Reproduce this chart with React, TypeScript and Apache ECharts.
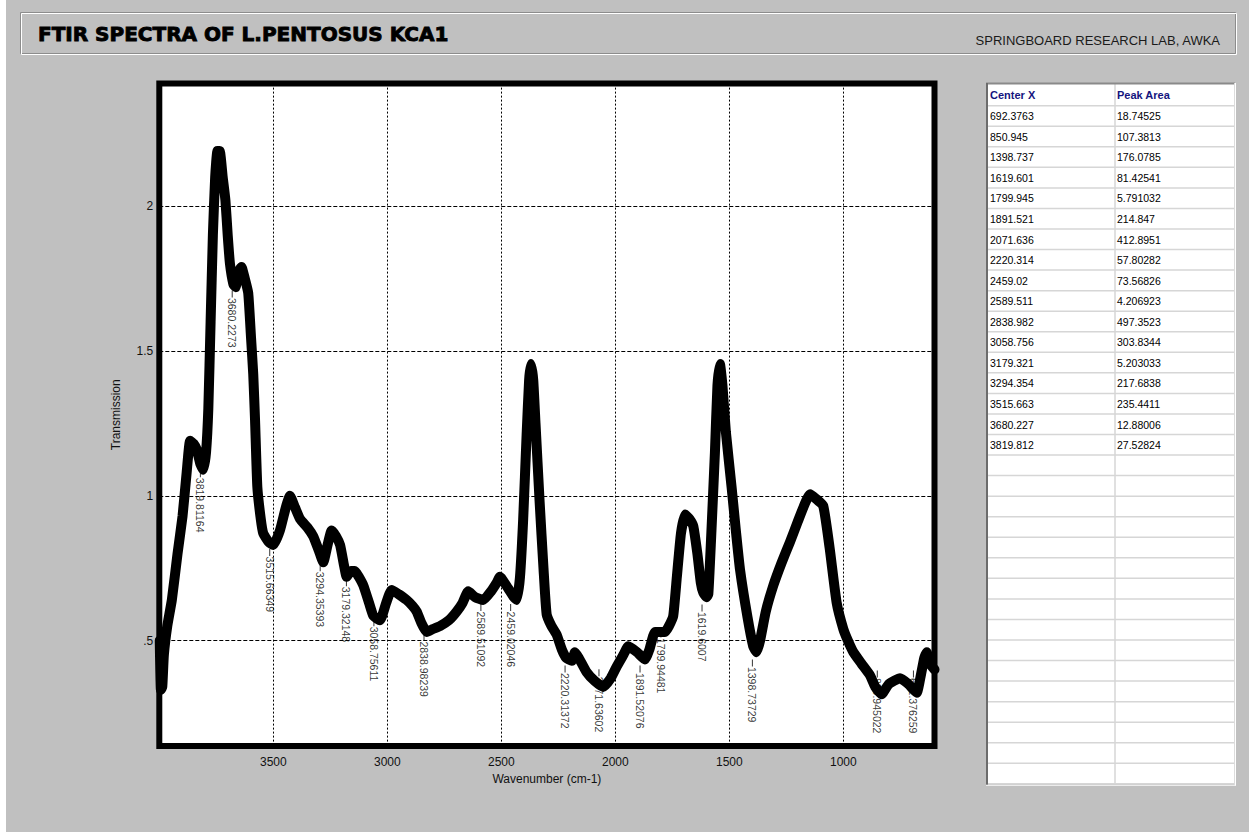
import React, { useEffect, useRef } from "react";
import * as echarts from "echarts";

// ---- Spectrum data ----
const wavenumbers = [
  3998, 3993, 3987, 3980, 3965, 3945, 3920, 3898, 3880, 3865, 3850, 3836, 3820, 3807, 3795, 3785, 3775, 3765, 3755, 3745,
  3735, 3722, 3710, 3700, 3690, 3675, 3665, 3655, 3640, 3625, 3610, 3598, 3588, 3580, 3570, 3555, 3544, 3520, 3500, 3471,
  3445, 3427, 3405, 3383, 3350, 3325, 3300, 3281, 3262, 3244, 3225, 3207, 3190, 3178, 3160, 3142, 3125, 3105, 3080, 3061,
  3032, 3005, 2981, 2950, 2915, 2890, 2871, 2850, 2827, 2800, 2769, 2730, 2696, 2670, 2645, 2615, 2579, 2545, 2520, 2506,
  2470, 2445, 2432, 2418, 2404, 2389, 2378, 2370, 2360, 2350, 2332, 2315, 2301, 2280, 2257, 2235, 2215, 2191, 2177, 2160,
  2125, 2090, 2053, 2020, 1994, 1965, 1943, 1905, 1870, 1850, 1826, 1800, 1782, 1765, 1746, 1730, 1712, 1694, 1675, 1658,
  1640, 1625, 1614, 1600, 1592, 1580, 1563, 1552, 1541, 1530, 1515, 1490, 1470, 1453, 1420, 1395, 1380, 1365, 1340, 1307,
  1270, 1234, 1200, 1170, 1146, 1120, 1088, 1060, 1029, 1000, 980, 956, 920, 883, 860, 832, 800, 751, 715, 678,
  660, 645, 634, 620, 600,
];
const transmission = [
  0.5, 0.33, 0.34, 0.45, 0.55, 0.64, 0.8, 0.93, 1.08, 1.19, 1.18, 1.16, 1.11, 1.09, 1.15, 1.3, 1.6, 1.9, 2.1, 2.19,
  2.19, 2.1, 2.02, 1.9, 1.8, 1.73, 1.72, 1.77, 1.79, 1.75, 1.7, 1.55, 1.42, 1.26, 1.03, 0.92, 0.87, 0.84, 0.83, 0.88,
  0.96, 1.0, 0.96, 0.92, 0.89, 0.86, 0.81, 0.77, 0.83, 0.88, 0.86, 0.83, 0.76, 0.72, 0.74, 0.74, 0.72, 0.69, 0.63, 0.585,
  0.57, 0.63, 0.675, 0.66, 0.64, 0.62, 0.6, 0.56, 0.53, 0.54, 0.55, 0.57, 0.6, 0.63, 0.67, 0.65, 0.64, 0.67, 0.7, 0.72,
  0.68, 0.65, 0.64, 0.72, 0.92, 1.21, 1.4, 1.455, 1.4, 1.25, 0.98, 0.75, 0.59, 0.55, 0.52, 0.47, 0.44, 0.43, 0.46, 0.44,
  0.39, 0.36, 0.34, 0.37, 0.41, 0.45, 0.48, 0.46, 0.435, 0.47, 0.53, 0.53, 0.53, 0.55, 0.585, 0.72, 0.87, 0.935, 0.92, 0.895,
  0.8, 0.7, 0.665, 0.65, 0.66, 0.85, 1.15, 1.38, 1.455, 1.38, 1.22, 1.03, 0.87, 0.745, 0.58, 0.48, 0.46, 0.5, 0.6, 0.69,
  0.77, 0.84, 0.91, 0.97, 1.005, 0.99, 0.965, 0.82, 0.63, 0.54, 0.5, 0.46, 0.42, 0.38, 0.34, 0.315, 0.35, 0.37, 0.35, 0.32,
  0.38, 0.44, 0.46, 0.42, 0.4,
];

// ---- Peak annotations ----
const peakWavenumbers = [
  3819.81164, 3680.2273, 3515.66349, 3294.35393, 3179.32148, 3058.75611, 2838.98239, 2589.51092, 2459.02046,
  2220.31372, 2071.63602, 1891.52076, 1799.94481, 1619.6007, 1398.73729, 850.945022, 692.376259,
];
const peakLabels = [
  "3819.81164", "3680.2273", "3515.66349", "3294.35393", "3179.32148", "3058.75611", "2838.98239", "2589.51092",
  "2459.02046", "2220.31372", "2071.63602", "1891.52076", "1799.94481", "1619.6007", "1398.73729", "850.945022",
  "692.376259",
];
const peakLabelY = [
  1.062, 1.683, 0.79, 0.738, 0.686, 0.548, 0.497, 0.6, 0.6, 0.388, 0.375, 0.388, 0.509, 0.599, 0.409, 0.371, 0.371,
];

// ---- Table ----
const tableHeaders = ["Center X", "Peak Area"];
const tableCenterX = [
  "692.3763", "850.945", "1398.737", "1619.601", "1799.945", "1891.521", "2071.636", "2220.314", "2459.02",
  "2589.511", "2838.982", "3058.756", "3179.321", "3294.354", "3515.663", "3680.227", "3819.812",
];
const tablePeakArea = [
  "18.74525", "107.3813", "176.0785", "81.42541", "5.791032", "214.847", "412.8951", "57.80282", "73.56826",
  "4.206923", "497.3523", "303.8344", "5.203033", "217.6838", "235.4411", "12.88006", "27.52824",
];
const tableRowCount = 33;

// ---- Axes ----
const xTicks = [3500, 3000, 2500, 2000, 1500, 1000];
const yTicks = [0.5, 1, 1.5, 2];
const xRange = [600, 4000];
const yRange = [0.136, 2.423];

const titleText = "FTIR SPECTRA OF L.PENTOSUS KCA1";
const subtitleText = "SPRINGBOARD RESEARCH LAB, AWKA";
const xName = "Wavenumber (cm-1)";
const yName = "Transmission";

const SANS = "'Liberation Sans', Arial, sans-serif";

function buildTable(): any[] {
  const els: any[] = [];
  const left = 987;
  const right = 1234;
  const top = 83;
  const headerBottom = 105.7;
  const rowH = 20.55;
  const bottom = headerBottom + tableRowCount * rowH;
  const colX = 1115;
  els.push({ type: "rect", shape: { x: left, y: top, width: right - left, height: bottom - top }, style: { fill: "#fff" }, silent: true });
  for (let k = 0; k <= tableRowCount; k++) {
    const y = headerBottom + k * rowH;
    els.push({ type: "line", shape: { x1: left, y1: y, x2: right, y2: y }, style: { stroke: "#d6d6d6", lineWidth: 1.5 }, silent: true });
  }
  els.push({ type: "line", shape: { x1: colX, y1: top, x2: colX, y2: bottom }, style: { stroke: "#d6d6d6", lineWidth: 1.5 }, silent: true });
  els.push({ type: "line", shape: { x1: left - 1, y1: top + 0.5, x2: right + 1, y2: top + 0.5 }, style: { stroke: "#8a8a8a", lineWidth: 2 }, silent: true });
  els.push({ type: "line", shape: { x1: left, y1: top, x2: left, y2: bottom + 1 }, style: { stroke: "#6c6c6c", lineWidth: 2 }, silent: true });
  els.push({ type: "line", shape: { x1: right + 0.5, y1: top, x2: right + 0.5, y2: bottom + 1 }, style: { stroke: "#dcdcdc", lineWidth: 1 }, silent: true });
  els.push({ type: "line", shape: { x1: right + 1.5, y1: top, x2: right + 1.5, y2: bottom + 2 }, style: { stroke: "#ffffff", lineWidth: 1 }, silent: true });
  els.push({ type: "line", shape: { x1: left - 1, y1: bottom + 1.5, x2: right + 2, y2: bottom + 1.5 }, style: { stroke: "#f4f4f4", lineWidth: 1 }, silent: true });
  const colText = [990, 1117];
  tableHeaders.forEach((h, j) => {
    els.push({
      type: "text", x: colText[j], y: (top + headerBottom) / 2 + 1, silent: true,
      style: { text: h, fill: "#14147e", font: `bold 11px ${SANS}`, textAlign: "left", textVerticalAlign: "middle" },
    });
  });
  tableCenterX.forEach((v, i) => {
    const y = headerBottom + i * rowH + rowH / 2 + 0.3;
    els.push({ type: "text", x: colText[0], y, silent: true, style: { text: v, fill: "#000", font: `10.5px ${SANS}`, textAlign: "left", textVerticalAlign: "middle" } });
    els.push({ type: "text", x: colText[1], y, silent: true, style: { text: tablePeakArea[i], fill: "#000", font: `10.5px ${SANS}`, textAlign: "left", textVerticalAlign: "middle" } });
  });
  return els;
}

export default function App() {
  const ref = useRef<HTMLDivElement>(null);
  useEffect(() => {
    if (!ref.current) return;
    const chart = echarts.init(ref.current, undefined, { renderer: "svg" });
    const lineData = wavenumbers.map((w, i) => [w, transmission[i]]);
    const peakData = peakWavenumbers.map((w, i) => [w, peakLabelY[i]]);
    const option: any = {
      animation: false,
      backgroundColor: "#c0c0c0",
      textStyle: { fontFamily: SANS },
      grid: {
        show: true,
        left: 159.3,
        right: 314.5,
        top: 83.6,
        bottom: 86,
        backgroundColor: "#fff",
        borderColor: "#000",
        borderWidth: 6,
      },
      xAxis: {
        type: "value",
        min: xRange[0],
        max: xRange[1],
        inverse: true,
        axisLine: { show: false },
        axisTick: { show: false, customValues: xTicks },
        axisLabel: {
          customValues: xTicks,
          fontSize: 12,
          color: "#111",
          margin: 10,
          fontFamily: SANS,
          formatter: (v: number) => String(v),
        },
        splitLine: { show: true, lineStyle: { color: "#000", width: 1, type: [2, 2] } },
        name: xName,
        nameLocation: "middle",
        nameGap: 26,
        nameTextStyle: { fontSize: 12, color: "#111", fontFamily: SANS },
      },
      yAxis: {
        type: "value",
        min: yRange[0],
        max: yRange[1],
        axisLine: { show: false },
        axisTick: { show: false, customValues: yTicks },
        axisLabel: {
          customValues: yTicks,
          fontSize: 12,
          color: "#111",
          margin: 6,
          fontFamily: SANS,
          formatter: (v: number) => (v < 1 ? String(v).replace(/^0/, "") : String(v)),
        },
        splitLine: { show: true, lineStyle: { color: "#000", width: 1, type: [4, 2] } },
        name: yName,
        nameLocation: "middle",
        nameGap: 37,
        nameTextStyle: { fontSize: 12, color: "#111", fontFamily: SANS },
      },
      graphic: [
        { type: "rect", shape: { x: 0, y: 0, width: 6, height: 832 }, style: { fill: "#fff" }, silent: true },
        { type: "rect", shape: { x: 20.5, y: 12.5, width: 1215, height: 41 }, style: { fill: "none", stroke: "#8c8c8c", lineWidth: 1 }, silent: true },
        { type: "rect", shape: { x: 21.5, y: 13.5, width: 1215, height: 41 }, style: { fill: "none", stroke: "#ffffff", lineWidth: 1 }, silent: true },
        {
          type: "text", x: 38, y: 34, silent: true,
          style: {
            text: titleText, fill: "#000", font: "bold 20px 'DejaVu Sans', sans-serif",
            textAlign: "left", textVerticalAlign: "middle", stroke: "#000", lineWidth: 0.9,
          },
        },
        {
          type: "text", x: 1220, y: 40.5, silent: true,
          style: { text: subtitleText, fill: "#1a1a1a", font: `13px ${SANS}`, textAlign: "right", textVerticalAlign: "middle" },
        },
        ...buildTable(),
      ],
      series: [
        {
          type: "scatter",
          data: peakData,
          symbolSize: 1,
          itemStyle: { color: "rgba(0,0,0,0)" },
          silent: true,
          z: 2,
          label: {
            show: true,
            formatter: (p: any) => peakLabels[p.dataIndex],
            rotate: -90,
            position: "inside",
            align: "left",
            verticalAlign: "middle",
            fontSize: 10.5,
            color: "#000",
            fontFamily: SANS,
          },
        },
        {
          type: "scatter",
          data: peakData,
          symbol: "rect",
          symbolSize: [1, 7],
          symbolOffset: [0, -4],
          itemStyle: { color: "#000" },
          silent: true,
          z: 2,
        },
        {
          type: "line",
          data: lineData,
          symbol: "none",
          showSymbol: false,
          smooth: 0.15,
          clip: false,
          z: 3,
          lineStyle: { color: "#000", width: 10, cap: "round", join: "round" },
        },
      ],
    };
    chart.setOption(option);
    return () => chart.dispose();
  }, []);
  return (
    <div
      ref={ref}
      style={{ position: "fixed", left: 0, top: 0, width: 1249, height: 832 }}
    />
  );
}
